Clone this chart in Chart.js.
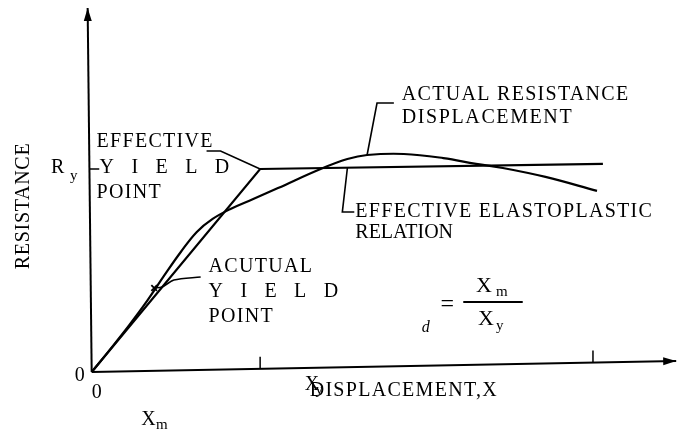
<!DOCTYPE html>
<html>
<head>
<meta charset="utf-8">
<script src="https://cdn.jsdelivr.net/npm/chart.js@4/dist/chart.umd.min.js"></script>
<style>
  html, body { margin: 0; padding: 0; background: #fff; }
  canvas { display: block; }
</style>
</head>
<body>
<canvas id="myChart" width="684" height="435"></canvas>
<script>
  // displacement in units of X_y, resistance in units of R_y
  const actualDisp = [0, 0.106, 0.224, 0.329, 0.429, 0.529, 0.624, 0.718, 0.824, 0.959, 1.106, 1.359, 1.518, 1.635, 1.853, 2.088, 2.282, 2.441, 2.694, 3.0];
  const actualRes  = [0, 0.108, 0.232, 0.350, 0.473, 0.591, 0.690, 0.754, 0.803, 0.852, 0.906, 1.0, 1.049, 1.069, 1.074, 1.054, 1.025, 1.005, 0.961, 0.892];

  const effectiveDisp = [0, 1, 3.035];
  const effectiveRes  = [0, 1, 1.025];

  // the axes, a little skewed like the scan
  const xAxisDisp = [0, 3.47];
  const xAxisRes  = [0, 0.054];
  const yAxisDisp = [0, -0.024];
  const yAxisRes  = [0, 1.793];

  const xTickValues = [1, 2.976];   // X_y, X_m
  const yTickValues = [1];          // R_y

  // leader lines from the labels to the curves
  const leaderEffYieldX = [0.682, 0.765, 1];
  const leaderEffYieldY = [1.089, 1.089, 1];
  const leaderActualX = [1.794, 1.694, 1.635];
  const leaderActualY = [1.325, 1.325, 1.069];
  const leaderElastoX = [1.518, 1.488, 1.559];
  const leaderElastoY = [1.005, 0.788, 0.788];
  const leaderActYieldX = [0.647, 0.488, 0.418, 0.371];
  const leaderActYieldY = [0.468, 0.453, 0.419, 0.414];
  const actualYieldPoint = [{x: 0.371, y: 0.414}];

  const notes = [
    {t: 'EFFECTIVE', x: 0.029, y: 1.108},
    {t: 'Y I E L D', x: 0.047, y: 0.980, ls: 6.2},
    {t: 'POINT', x: 0.029, y: 0.857},
    {t: 'R', x: -0.241, y: 0.980},
    {t: 'y', x: -0.129, y: 0.945, size: 15},
    {t: 'ACTUAL RESISTANCE', x: 1.841, y: 1.340},
    {t: 'DISPLACEMENT', x: 1.841, y: 1.227, ls: 1.6},
    {t: 'EFFECTIVE ELASTOPLASTIC', x: 1.565, y: 0.764},
    {t: 'RELATION', x: 1.565, y: 0.660, ls: 0},
    {t: 'ACUTUAL', x: 0.694, y: 0.493},
    {t: 'Y I E L D', x: 0.694, y: 0.369, ls: 6.2},
    {t: 'POINT', x: 0.694, y: 0.246},
    {t: '0', x: -0.1, y: -0.044},
    {t: '0', x: 0, y: -0.128},
    {t: 'X', x: 0.294, y: -0.261},
    {t: 'm', x: 0.382, y: -0.28, size: 15, ls: 0},
    {t: 'X', x: 1.265, y: -0.089},
    {t: 'y', x: 1.329, y: -0.110, size: 15, ls: 0},
    {t: 'DISPLACEMENT,X', x: 1.294, y: -0.118},
    {t: 'd', x: 1.959, y: 0.197, size: 16, style: 'italic', ls: 0},
    {t: '=', x: 2.071, y: 0.300, size: 24, ls: 0},
    {t: 'X', x: 2.282, y: 0.394, size: 22, ls: 0},
    {t: 'm', x: 2.4, y: 0.374, size: 15, ls: 0},
    {t: 'X', x: 2.294, y: 0.232, size: 22, ls: 0},
    {t: 'y', x: 2.4, y: 0.207, size: 15, ls: 0},
    {t: 'RESISTANCE', x: -0.406, y: 0.818, rot: true, ls: 0.7}
  ];
  const fractionBar = {x1: 2.206, x2: 2.559, y: 0.345};

  const pts = (xs, ys) => xs.map((v, i) => ({x: v, y: ys[i]}));

  const axisAt = v => xAxisRes[0] + (xAxisRes[1] - xAxisRes[0]) * v / xAxisDisp[1];
  const tickSegments = xTickValues.map(v => [{x: v, y: axisAt(v)}, {x: v, y: axisAt(v) + 0.06}])
    .concat(yTickValues.map(v => [{x: -0.012, y: v}, {x: 0.045, y: v}]));

  const line = (data, width) => ({
    data: data, showLine: true, borderColor: '#000', backgroundColor: '#000',
    borderWidth: width, pointRadius: 0, fill: false, clip: false
  });

  const datasets = [
    line(pts(xAxisDisp, xAxisRes), 2),
    line(pts(yAxisDisp, yAxisRes), 2),
    line(pts(effectiveDisp, effectiveRes), 2.2),
    Object.assign(line(pts(actualDisp, actualRes), 2.2), {tension: 0.4}),
    line(pts(leaderEffYieldX, leaderEffYieldY), 1.6),
    line(pts(leaderActualX, leaderActualY), 1.6),
    line(pts(leaderElastoX, leaderElastoY), 1.6),
    Object.assign(line(pts(leaderActYieldX, leaderActYieldY), 1.6), {tension: 0.3}),
    {data: actualYieldPoint, pointStyle: 'crossRot', pointRadius: 4, borderWidth: 1.8,
     borderColor: '#000', showLine: false, clip: false}
  ].concat(tickSegments.map(s => line(s, 1.5)));

  const notesPlugin = {
    id: 'notes',
    afterDatasetsDraw(chart) {
      const {ctx, scales: {x, y}} = chart;
      ctx.save();
      ctx.fillStyle = '#000';
      ctx.strokeStyle = '#000';

      // arrowheads on both axes
      [[xAxisDisp, xAxisRes], [yAxisDisp, yAxisRes]].forEach(([xs, ys]) => {
        const x0 = x.getPixelForValue(xs[0]), y0 = y.getPixelForValue(ys[0]);
        const x1 = x.getPixelForValue(xs[1]), y1 = y.getPixelForValue(ys[1]);
        const a = Math.atan2(y1 - y0, x1 - x0);
        ctx.beginPath();
        ctx.moveTo(x1, y1);
        ctx.lineTo(x1 - 13 * Math.cos(a) + 4 * Math.sin(a), y1 - 13 * Math.sin(a) - 4 * Math.cos(a));
        ctx.lineTo(x1 - 13 * Math.cos(a) - 4 * Math.sin(a), y1 - 13 * Math.sin(a) + 4 * Math.cos(a));
        ctx.closePath();
        ctx.fill();
      });

      notes.forEach(n => {
        ctx.font = (n.style || '') + ' ' + (n.size || 20) + 'px "Liberation Serif", "Times New Roman", serif';
        ctx.letterSpacing = (n.ls === undefined ? 1.3 : n.ls) + 'px';
        const px = x.getPixelForValue(n.x), py = y.getPixelForValue(n.y);
        if (n.rot) {
          ctx.save();
          ctx.translate(px, py);
          ctx.rotate(-Math.PI / 2);
          ctx.textAlign = 'center';
          ctx.textBaseline = 'middle';
          ctx.fillText(n.t, 0, 0);
          ctx.restore();
        } else {
          ctx.textAlign = 'left';
          ctx.textBaseline = 'alphabetic';
          ctx.fillText(n.t, px, py);
        }
      });

      ctx.lineWidth = 2;
      ctx.beginPath();
      ctx.moveTo(x.getPixelForValue(fractionBar.x1), y.getPixelForValue(fractionBar.y));
      ctx.lineTo(x.getPixelForValue(fractionBar.x2), y.getPixelForValue(fractionBar.y));
      ctx.stroke();
      ctx.restore();
    }
  };

  const config = {
    type: 'scatter',
    data: {datasets: datasets},
    options: {
      responsive: false,
      animation: false,
      devicePixelRatio: 1,
      layout: {padding: {left: 58, right: 0, top: 6.6, bottom: 22.4}},
      plugins: {legend: {display: false}, tooltip: {enabled: false}},
      scales: {
        x: {type: 'linear', min: -0.2, max: 3.482, display: false},
        y: {type: 'linear', min: -0.2, max: 1.8, display: false}
      }
    },
    plugins: [notesPlugin]
  };

  const myChart = new Chart(document.getElementById('myChart'), config);
</script>
</body>
</html>
